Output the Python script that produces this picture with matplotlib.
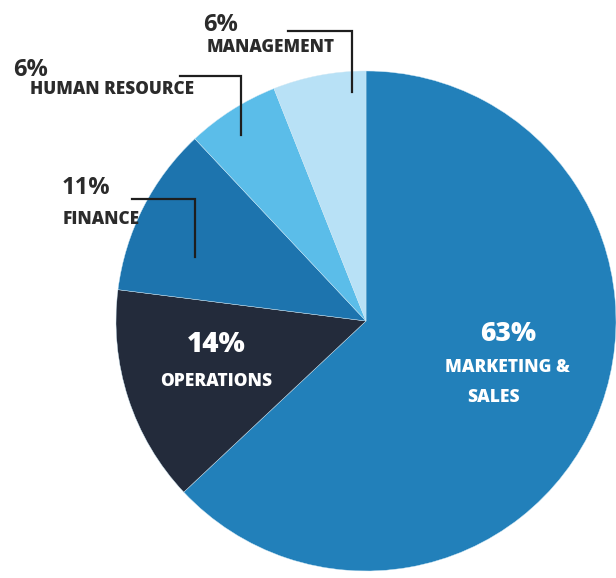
import matplotlib.pyplot as plt

# Du lieu
labels = ['MARKETING &\nSALES', 'OPERATIONS', 'FINANCE', 'HUMAN RESOURCE', 'MANAGEMENT']
values = [63, 14, 11, 6, 6]
colors = ['#2280ba', '#232b3b', '#1d74ae', '#5bbde9', '#b8e1f6']

W, H = 616, 578
FONT = ['Open Sans', 'DejaVu Sans']


def py(y):
    # toa do pixel (tu tren xuong) -> toa do truc
    return H - y


fig = plt.figure(figsize=(W / 100, H / 100), dpi=100)
ax = fig.add_axes([0, 0, 1, 1])

ax.pie(values, colors=colors, startangle=90, counterclock=False,
       center=(366, py(321)), radius=250,
       wedgeprops=dict(linewidth=0.3, edgecolor='#cfe8f5'))

# pie() dat lai gioi han truc, nen dat sau
ax.set_xlim(0, W)
ax.set_ylim(0, H)
ax.set_aspect('equal')
ax.axis('off')

# Nhan ben trong
ax.text(508, py(334), f'{values[0]}%', color='white', fontsize=19, fontweight='heavy',
        ha='center', va='center', family=FONT)
ax.text(445, py(367), 'MARKETING &', color='white', fontsize=12.5, fontweight='heavy',
        ha='left', va='center', family=FONT)
ax.text(467, py(397), 'SALES', color='white', fontsize=12.5, fontweight='heavy',
        ha='left', va='center', family=FONT)
ax.text(216, py(345), f'{values[1]}%', color='white', fontsize=20, fontweight='heavy',
        ha='center', va='center', family=FONT)
ax.text(216, py(381), 'OPERATIONS', color='white', fontsize=12.5, fontweight='heavy',
        ha='center', va='center', family=FONT)

# Nhan ben ngoai voi duong dan
outside = [
    # (nhan, gia tri, x so, y so, x chu, y chu, duong x0, x1, y, y cuoi)
    ('FINANCE', values[2], 62, 188, 63, 219, 132, 195, 199, 257),
    ('HUMAN RESOURCE', values[3], 13, 70, 30, 90, 180, 241, 76, 135),
    ('MANAGEMENT', values[4], 203, 25, 207, 47, 288, 352, 31, 92),
]
for name, v, xn, yn, xt, yt, x0, x1, yl, yend in outside:
    ax.text(xn, py(yn), f'{v}%', color='#2b2b2b', fontsize=17, fontweight='bold',
            ha='left', va='center', family=FONT)
    ax.text(xt, py(yt), name, color='#2b2b2b', fontsize=12.3, fontweight='heavy',
            ha='left', va='center', family=FONT)
    ax.plot([x0, x1, x1], [py(yl), py(yl), py(yend)], color='#1e1e1e',
            linewidth=1.6, solid_joinstyle='miter')

plt.savefig('out.png', dpi=100)
plt.close()
